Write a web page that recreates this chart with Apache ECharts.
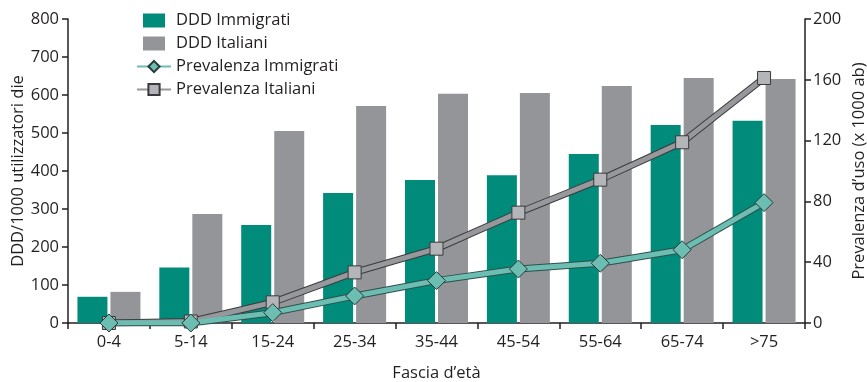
<!DOCTYPE html>
<html><head><meta charset="utf-8">
<script src="https://cdn.jsdelivr.net/npm/echarts@6/dist/echarts.min.js"></script>
<style>html,body{margin:0;padding:0;background:#fff}#c{width:867px;height:382px}</style>
</head><body><div id="c"></div>
<script>
const categories = ['0-4','5-14','15-24','25-34','35-44','45-54','55-64','65-74','>75'];
const dddImmigrati = [69,146,258,342,376,389,445,521,532];
const dddItaliani = [82,287,505,571,603,605,624,645,642];
const prevImmigrati = [0,0,6.8,17.8,27.9,35.5,39.3,48.2,79.2];
const prevItaliani = [0,1,13.6,33.3,48.9,72.6,94.3,118.9,161.2];
const leftTicks = [0,100,200,300,400,500,600,700,800];
const rightTicks = [0,40,80,120,160,200];

const FONT = 'Open Sans';
const FS = 16.5;
const TXT = '#231f20';
const chart = echarts.init(document.getElementById('c'), null, {renderer:'canvas'});
chart.setOption({
  animation:false,
  textStyle:{fontFamily:FONT,color:TXT},
  grid:{left:68,right:62,top:19,bottom:59,containLabel:false,outerBoundsMode:'none'},
  legend:{
    orient:'vertical',left:131,top:7,itemGap:6,itemWidth:34,itemHeight:14,
    textStyle:{fontFamily:FONT,fontSize:FS,color:TXT},
    data:[
      {name:'DDD Immigrati',icon:'path://M0,0H22V14H0Z'},
      {name:'DDD Italiani',icon:'path://M0,0H22V14H0Z'},
      {name:'Prevalenza Immigrati'},
      {name:'Prevalenza Italiani'}
    ]
  },
  xAxis:{
    type:'category',data:categories,
    name:'Fascia d’età',nameLocation:'middle',nameGap:42,nameMoveOverlap:false,
    nameTextStyle:{fontFamily:FONT,fontSize:FS,color:TXT},
    axisLine:{lineStyle:{color:TXT,width:1.5}},
    axisTick:{show:true,length:6,lineStyle:{color:TXT,width:1.5},alignWithLabel:false},
    axisLabel:{fontFamily:FONT,fontSize:FS,color:TXT,margin:11}
  },
  yAxis:[
    {type:'value',min:0,max:800,interval:100,
     name:'DDD/1000 utilizzatori die',nameLocation:'middle',nameGap:41,nameRotate:90,nameMoveOverlap:false,
     nameTextStyle:{fontFamily:FONT,fontSize:FS,color:TXT},
     axisLine:{show:true,lineStyle:{color:TXT,width:1.5}},
     axisTick:{show:true,length:6,lineStyle:{color:TXT,width:1.5}},
     axisLabel:{fontFamily:FONT,fontSize:FS,color:TXT,margin:9,
       formatter:v=>leftTicks.includes(v)?String(v):''},
     splitLine:{show:false}},
    {type:'value',min:0,max:200,interval:40,position:'right',
     name:'Prevalenza d’uso (x 1000 ab)',nameLocation:'middle',nameGap:46,nameRotate:90,nameMoveOverlap:false,
     nameTextStyle:{fontFamily:FONT,fontSize:FS,color:TXT},
     axisLine:{show:true,lineStyle:{color:TXT,width:1.5}},
     axisTick:{show:true,length:6,lineStyle:{color:TXT,width:1.5}},
     axisLabel:{fontFamily:FONT,fontSize:FS,color:TXT,margin:8,
       formatter:v=>rightTicks.includes(v)?String(v):''},
     splitLine:{show:false}}
  ],
  series:[
    {name:'DDD Immigrati',type:'bar',data:dddImmigrati,barWidth:30,barGap:'10%',
     itemStyle:{color:'#008b7b'}},
    {name:'DDD Italiani',type:'bar',data:dddItaliani,barWidth:30,barGap:'10%',
     itemStyle:{color:'#939598'}},
    {name:'outline-ita',type:'line',yAxisIndex:1,data:prevItaliani,showSymbol:false,
     lineStyle:{color:'#3a3a3c',width:7},z:3,silent:true},
    {name:'outline-imm',type:'line',yAxisIndex:1,data:prevImmigrati,showSymbol:false,
     lineStyle:{color:'#2f4f4b',width:7},z:3,silent:true},
    {name:'Prevalenza Italiani',type:'line',yAxisIndex:1,data:prevItaliani,
     symbol:'rect',symbolSize:13,
     lineStyle:{color:'#97989b',width:5},
     itemStyle:{color:'#b4b5b8',borderColor:'#3a3a3c',borderWidth:1},z:4},
    {name:'Prevalenza Immigrati',type:'line',yAxisIndex:1,data:prevImmigrati,
     symbol:'diamond',symbolSize:18,
     lineStyle:{color:'#6cbdb2',width:5},
     itemStyle:{color:'#6cbdb2',borderColor:'#2b3a38',borderWidth:1},z:5}
  ]
});
</script></body></html>
